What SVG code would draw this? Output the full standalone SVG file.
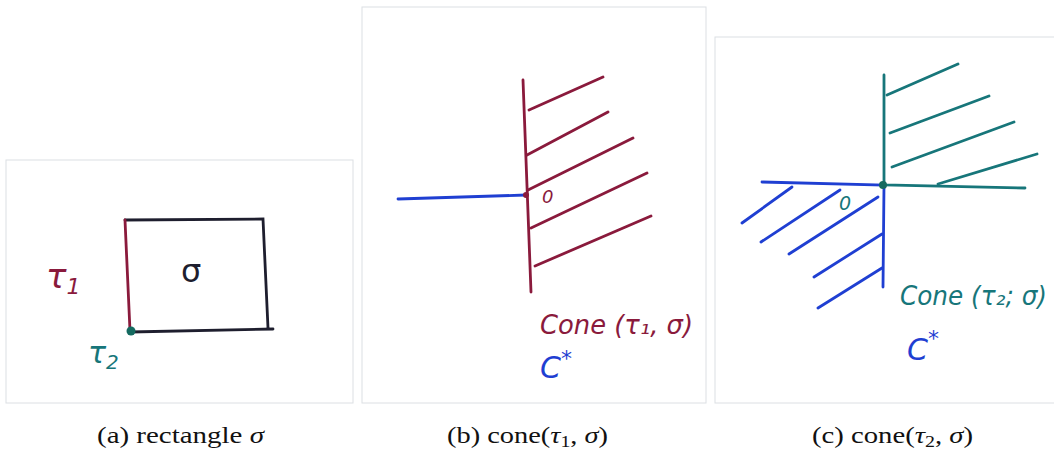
<svg xmlns="http://www.w3.org/2000/svg" width="1054" height="449" viewBox="0 0 1054 449">
<style>
.frame{fill:#fff;stroke:#dcdfe3;stroke-width:1}
.ln{fill:none;stroke-linecap:round;stroke-width:2.8}
.k{stroke:#1e1e2e}.r{stroke:#8a1a3c}.t{stroke:#17767a}.b{stroke:#1f3fd2}
.hw{font-family:"DejaVu Sans","Noto Sans",sans-serif}
.cap{font-family:"Liberation Serif","DejaVu Serif",serif;font-size:23px;fill:#111}
</style>
<rect width="1054" height="449" fill="#fff"/>
<g id="panel-a">
<rect class="frame" x="6" y="160" width="347" height="243"/>
<path class="ln k" d="M125 220 L263 219 L268 328 M130 332 L273 329"/>
<path class="ln r" d="M125 220 L130 331" stroke-width="3.4"/>
<circle cx="131" cy="331" r="4.5" fill="#146a60"/>
<text class="hw" x="181" y="282" font-size="32" fill="#1e1e2e">σ</text>
<text class="hw" x="46" y="288" font-size="34" fill="#8a1a3c" font-style="italic">τ<tspan font-size="22" dy="6">1</tspan></text>
<text class="hw" x="88" y="363" font-size="30" fill="#17767a" font-style="italic">τ<tspan font-size="20" dy="6">2</tspan></text>
</g>
<g id="panel-b">
<rect class="frame" x="362" y="7" width="344" height="396"/>
<path class="ln r" d="M523 80 L531 292"/>
<path class="ln r" d="M529 110 L603 77 M527 155 L608 112 M528 190 L633 138 M531 228 L647 173 M535 266 L651 216"/>
<path class="ln b" d="M398 199 L526 195"/>
<circle cx="526" cy="195" r="3" fill="#8a1a3c"/>
<text class="hw" x="542" y="203" font-size="18" fill="#8a1a3c" font-style="italic">0</text>
<text class="hw" x="540" y="334" font-size="26" fill="#8a1a3c" font-style="italic" textLength="153" lengthAdjust="spacingAndGlyphs">Cone (τ₁, σ)</text>
<text class="hw" x="540" y="378" font-size="30" fill="#1f3fd2" font-style="italic">C<tspan font-size="22" dy="-12">*</tspan></text>
</g>
<g id="panel-c">
<rect class="frame" x="715" y="37" width="345" height="366"/>
<path class="ln t" d="M884 75 L884 185 L1025 188"/>
<path class="ln t" d="M887 95 L958 64 M890 133 L989 96 M892 167 L1014 122 M938 184 L1037 154"/>
<path class="ln b" d="M762 182 L884 185 L883 287"/>
<path class="ln b" d="M742 223 L792 187 M761 242 L840 190 M789 254 L878 197 M814 277 L882 234 M818 308 L882 268"/>
<circle cx="883" cy="185" r="4" fill="#146a60"/>
<text class="hw" x="839" y="210" font-size="19" fill="#17767a" font-style="italic">0</text>
<text class="hw" x="900" y="305" font-size="26" fill="#17767a" font-style="italic" textLength="147" lengthAdjust="spacingAndGlyphs">Cone (τ₂; σ)</text>
<text class="hw" x="907" y="360" font-size="30" fill="#1f3fd2" font-style="italic">C<tspan font-size="22" dy="-14">*</tspan></text>
</g>
<g id="captions">
<text class="cap" x="97" y="443" textLength="167" lengthAdjust="spacingAndGlyphs">(a) rectangle <tspan font-style="italic">σ</tspan></text>
<text class="cap" x="447" y="443" textLength="161" lengthAdjust="spacingAndGlyphs">(b) cone(<tspan font-style="italic">τ</tspan><tspan font-size="16" dy="4">1</tspan><tspan dy="-4">, </tspan><tspan font-style="italic">σ</tspan>)</text>
<text class="cap" x="812" y="443" textLength="161" lengthAdjust="spacingAndGlyphs">(c) cone(<tspan font-style="italic">τ</tspan><tspan font-size="16" dy="4">2</tspan><tspan dy="-4">, </tspan><tspan font-style="italic">σ</tspan>)</text>
</g>
</svg>
